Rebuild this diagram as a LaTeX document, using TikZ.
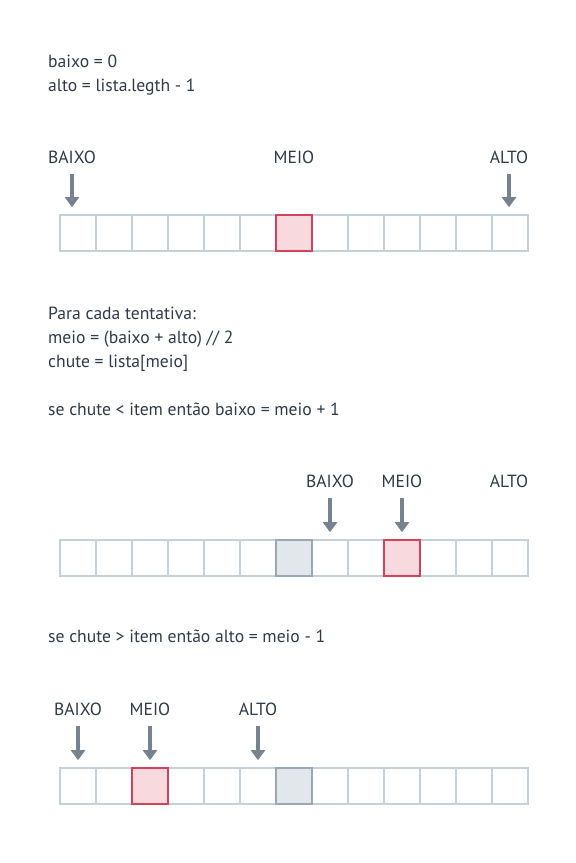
\documentclass[tikz,border=0pt]{standalone}
\usepackage{fontspec}
\setmainfont{PT Sans}
\usetikzlibrary{arrows.meta}

\definecolor{ink}{HTML}{2E3A48}
\definecolor{cellline}{HTML}{C5D0DA}
\definecolor{meioline}{HTML}{D1435B}
\definecolor{meiofill}{HTML}{F7D9DE}
\definecolor{oldline}{HTML}{9AA8B5}
\definecolor{oldfill}{HTML}{E2E7EB}
\definecolor{ptrcol}{HTML}{76828F}

\tikzset{
  cell/.style={draw=cellline, line width=1.6pt, minimum size=36pt, inner sep=0pt},
  meiocell/.style={cell, draw=meioline, fill=meiofill},
  oldcell/.style={cell, draw=oldline, fill=oldfill},
  txt/.style={anchor=base west, inner sep=0pt, text=ink, font=\fontsize{17.6}{21}\selectfont},
  lbl/.style={anchor=base, inner sep=0pt, text=ink, font=\fontsize{17.6}{21}\selectfont},
  ptr/.style={draw=ptrcol, line width=3.5pt, -{Triangle[width=14pt,length=10pt]},
    shorten <=11pt, shorten >=7pt}
}

\begin{document}
\begin{tikzpicture}[x=1pt,y=-1pt]
        \useasboundingbox (0,0) rectangle (576,863);

        \node[txt] (t1) at (48, 67) {baixo = 0};
        \node[txt] (t2) at (48, 91) {alto = lista.legth - 1};

        % primeira lista
        \foreach \i in {0,...,12}
            \node[cell] (a\i) at (78+36*\i, 233) {};
        \node[meiocell] at (a6) {};
        \node[lbl] (ba) at (72, 163) {BAIXO};
        \node[lbl] (ma) at (294, 163) {MEIO};
        \node[lbl] (aa) at (509, 163) {ALTO};
        \draw[ptr] (ba.south) -- (ba.south |- a0.north);
        \draw[ptr] (aa.south) -- (aa.south |- a12.north);

        \node[txt] (t3) at (48, 319) {Para cada tentativa:};
        \node[txt] (t4) at (48, 343) {meio = (baixo + alto) // 2};
        \node[txt] (t5) at (48, 367) {chute = lista[meio]};
        \node[txt] (t6) at (48, 415) {se chute < item então baixo = meio + 1};

        % segunda lista
        \foreach \i in {0,...,12}
            \node[cell] (b\i) at (78+36*\i, 558) {};
        \node[oldcell] at (b6) {};
        \node[meiocell] at (b9) {};
        \node[lbl] (bb) at (330, 487) {BAIXO};
        \node[lbl] (mb) at (402, 487) {MEIO};
        \node[lbl] (ab) at (509, 487) {ALTO};
        \draw[ptr] (bb.south) -- (bb.south |- b7.north);
        \draw[ptr] (mb.south) -- (mb.south |- b9.north);

        \node[txt] (t7) at (48, 642) {se chute > item então alto = meio - 1};

        % terceira lista
        \foreach \i in {0,...,12}
            \node[cell] (c\i) at (78+36*\i, 786) {};
        \node[meiocell] at (c2) {};
        \node[oldcell] at (c6) {};
        \node[lbl] (bc) at (78, 715) {BAIXO};
        \node[lbl] (mc) at (150, 715) {MEIO};
        \node[lbl] (ac) at (258, 715) {ALTO};
        \draw[ptr] (bc.south) -- (bc.south |- c0.north);
        \draw[ptr] (mc.south) -- (mc.south |- c2.north);
        \draw[ptr] (ac.south) -- (ac.south |- c5.north);

    \end{tikzpicture}
\end{document}
